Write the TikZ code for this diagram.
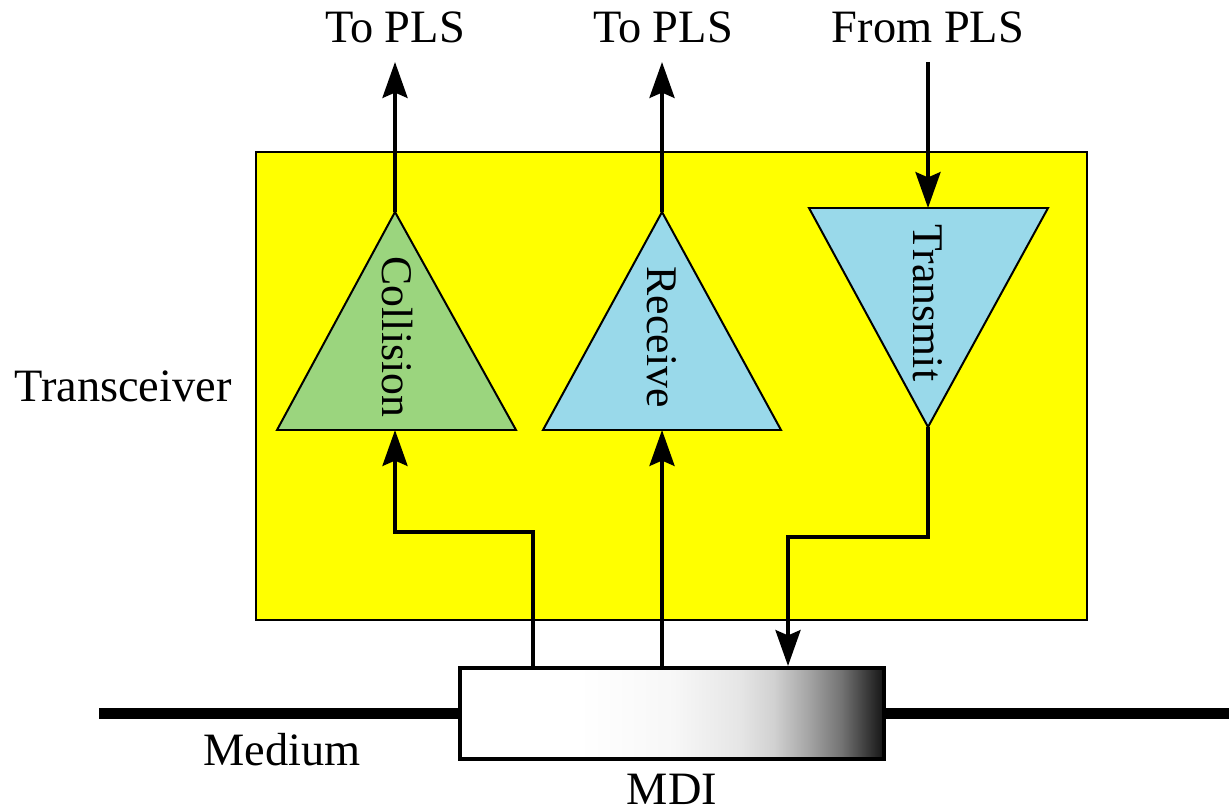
\documentclass[tikz,border=0pt]{standalone}
\usepackage{fontspec}
\setmainfont{Liberation Serif}
\usetikzlibrary{arrows.meta}
\definecolor{boxyellow}{RGB}{255,255,0}
\definecolor{ampgreen}{RGB}{155,213,126}
\definecolor{ampblue}{RGB}{153,217,234}
% white on the left, darkening to black at the right edge
\pgfdeclarehorizontalshading{mdishade}{100bp}{color(0bp)=(white); color(39bp)=(white); color(50bp)=(black!3); color(58bp)=(black!10); color(62bp)=(black!18); color(66bp)=(black!35); color(70bp)=(black!55); color(75bp)=(black!92); color(100bp)=(black!92)}
\begin{document}
\begin{tikzpicture}[x=0.02cm,y=-0.02cm,
  lbl/.style={font=\fontsize{26.4}{30}\selectfont, inner sep=0pt, anchor=base},
  amplbl/.style={font=\fontsize{24.9}{28}\selectfont, inner sep=0pt, anchor=base, rotate=-90},
  amp/.style={draw=black, line width=1.13pt, line join=miter},
  sig/.style={line width=2.3pt, -{Stealth[length=20.4pt,width=14.2pt,inset=3pt]}}]
\useasboundingbox (0,0) rectangle (1229,811);

% transceiver box
\node[draw=black, fill=boxyellow, line width=1.13pt, inner sep=0pt, outer sep=0pt,
      minimum width=16.62cm, minimum height=9.36cm] (xcvr) at (671.5,386) {};

% amplifier triangles
\coordinate (colA) at (395,212);
\coordinate (colB) at (395,430);
\draw[amp, fill=ampgreen] (colA) -- (516,430) -- (277,430) -- cycle;
\coordinate (recA) at (662,212);
\coordinate (recB) at (662,430);
\draw[amp, fill=ampblue] (recA) -- (781,430) -- (543,430) -- cycle;
\coordinate (txTop) at (928,208);
\coordinate (txA) at (928,427);
\draw[amp, fill=ampblue] (809,208) -- (1048,208) -- (txA) -- cycle;

\node[amplbl] (colL) at (382,337) {Collision};
\node[amplbl] (recL) at (647,337) {Receive};
\node[amplbl] (txL) at (913,303) {Transmit};

% medium and MDI
\coordinate (medL) at (99,713.5);
\coordinate (medR) at (1229,713.5);
\node[draw=black, line width=2.3pt, shade, shading=mdishade, inner sep=0pt,
      minimum width=8.48cm, minimum height=1.82cm] (mdi) at (672,713.5) {};
\draw[line width=6.2pt] (medL) -- (mdi.west);
\draw[line width=6.2pt] (mdi.east) -- (medR);

% signal paths
\coordinate (colOut) at (395,62);
\coordinate (recOut) at (662,62);
\coordinate (txIn) at (928,62);
\coordinate (colTap) at (533,0);
\coordinate (colBend) at (395,532);
\coordinate (txBend) at (788,537);
\draw[sig] (colA) -- (colOut);
\draw[sig] (recA) -- (recOut);
\draw[sig] (txIn) -- (txTop);
\draw[sig] (colTap |- mdi.north) |- (colBend) -- (colB);
\draw[sig] (recB |- mdi.north) -- (recB);
\draw[sig] (txA) |- (txBend) -- (txBend |- mdi.north);

% labels
\node[lbl] (toA) at (395,43) {To PLS};
\node[lbl] (toB) at (663,43) {To PLS};
\node[lbl] (fromC) at (928,43) {From PLS};
\node[lbl] (xcvrL) at (123,401) {Transceiver};
\node[lbl] (medLbl) at (282,765) {Medium};
\node[lbl] (mdiL) at (672,804) {MDI};
\end{tikzpicture}
\end{document}
